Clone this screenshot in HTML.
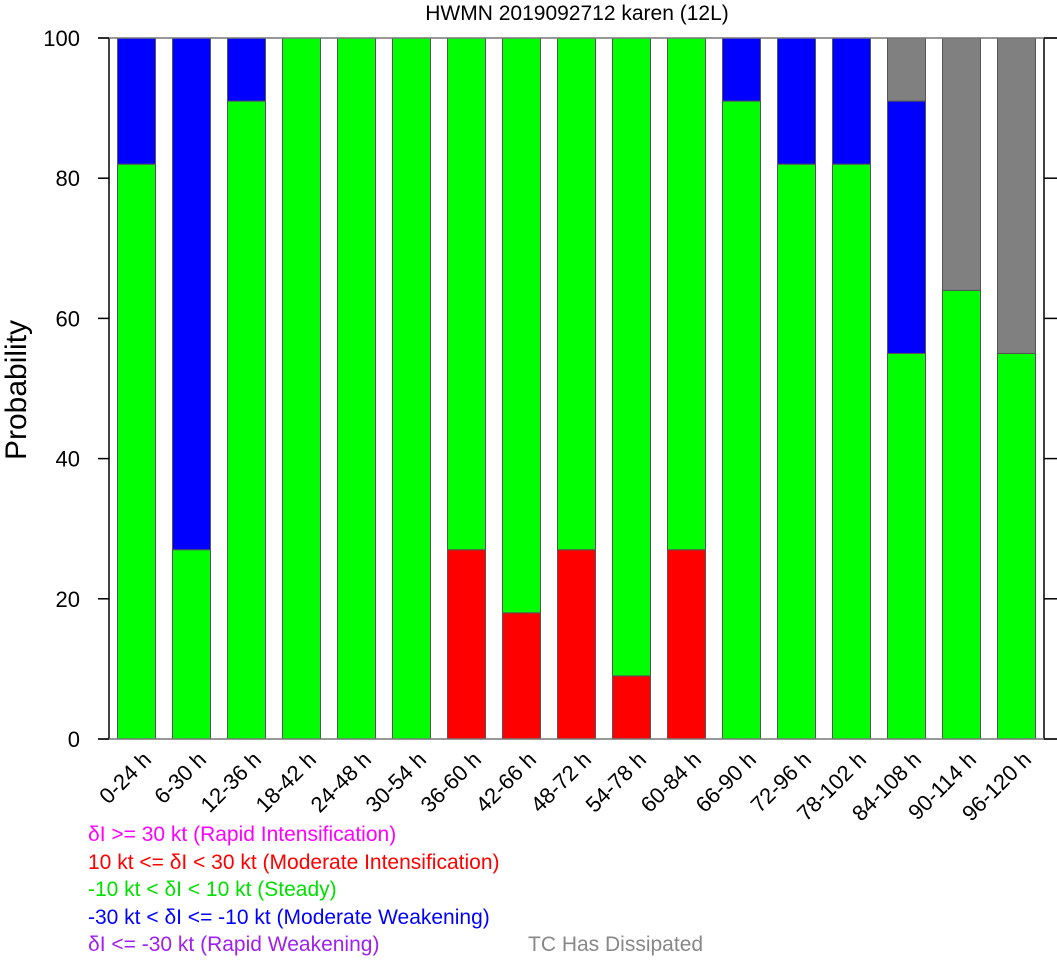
<!DOCTYPE html>
<html><head><meta charset="utf-8"><style>
body{margin:0;background:#fff;}
svg{display:block;font-family:"Liberation Sans",sans-serif;}
</style></head><body>
<svg id="chart" width="1057" height="960">
<text x="577" y="20" font-size="21" text-anchor="middle">HWMN 2019092712 karen (12L)</text>
<text transform="translate(26,390) rotate(-90)" font-size="30" text-anchor="middle">Probability</text>
<g id="bars"></g>
<g id="axes"></g>
<g font-size="21">
<text x="88" y="841" fill="#ff00ff">δI &gt;= 30 kt (Rapid Intensification)</text>
<text x="88" y="869" fill="#ff0000">10 kt &lt;= δI &lt; 30 kt (Moderate Intensification)</text>
<text x="88" y="896" fill="#00e000">-10 kt &lt; δI &lt; 10 kt (Steady)</text>
<text x="88" y="924" fill="#0000ff">-30 kt &lt; δI &lt;= -10 kt (Moderate Weakening)</text>
<text x="88" y="951" fill="#a020f0">δI &lt;= -30 kt (Rapid Weakening)</text>
<text x="528" y="951" fill="#888888">TC Has Dissipated</text>
</g>
</svg>
<script>
const categories=["0-24 h","6-30 h","12-36 h","18-42 h","24-48 h","30-54 h","36-60 h","42-66 h","48-72 h","54-78 h","60-84 h","66-90 h","72-96 h","78-102 h","84-108 h","90-114 h","96-120 h"];
const rapidInt=[0,0,0,0,0,0,0,0,0,0,0,0,0,0,0,0,0];
const modInt=[0,0,0,0,0,0,27,18,27,9,27,0,0,0,0,0,0];
const steady=[82,27,91,100,100,100,73,82,73,91,73,91,82,82,55,64,55];
const modWeak=[18,73,9,0,0,0,0,0,0,0,0,9,18,18,36,0,0];
const rapidWeak=[0,0,0,0,0,0,0,0,0,0,0,0,0,0,0,0,0];
const dissipated=[0,0,0,0,0,0,0,0,0,0,0,0,0,0,0,9,36,45].slice(1);
const yTicks=[0,20,40,60,80,100];
const NS="http://www.w3.org/2000/svg";
const X0=109,X1=1044,Y0=739,Y1=38;
const slot=(X1-X0)/categories.length;
const xC=i=>X0+slot*(i+0.5);
const y=v=>Y0-(v/100)*(Y0-Y1);
const bars=document.getElementById('bars');
const series=[[rapidInt,'#ff00ff','rapid-int'],[modInt,'#ff0000','mod-int'],[steady,'#00ff00','steady'],[modWeak,'#0000ff','mod-weak'],[rapidWeak,'#a020f0','rapid-weak'],[dissipated,'#808080','dissipated']];
categories.forEach((c,i)=>{
 let base=0;
 series.forEach(s=>{
  const v=s[0][i];
  if(v>0){
   const r=document.createElementNS(NS,'rect');
   r.setAttribute('x',xC(i)-19);r.setAttribute('width',38);
   r.setAttribute('y',y(base+v));r.setAttribute('height',y(base)-y(base+v));
   r.setAttribute('fill',s[1]);r.setAttribute('stroke','#555');r.setAttribute('stroke-width','1');
   
   
   bars.appendChild(r);
  }
  base+=v;
 });
 const t=document.createElementNS(NS,'text');
 t.setAttribute('transform',`translate(${xC(i)+16},${Y0+22}) rotate(-45)`);
 t.setAttribute('text-anchor','end');t.setAttribute('font-size','22');
 t.textContent=c;
 
 
 bars.appendChild(t);
});
const ax=document.getElementById('axes');
function line(x1,y1,x2,y2,col,name){const l=document.createElementNS(NS,'line');l.setAttribute('x1',x1);l.setAttribute('y1',y1);l.setAttribute('x2',x2);l.setAttribute('y2',y2);l.setAttribute('stroke',col);l.setAttribute('stroke-width','1.5');
 
 
 ax.appendChild(l);}
line(X0,Y1,X0,Y0,'#000','y-axis-left');
line(X1,Y1,X1,Y0,'#000','y-axis-right');
line(98,Y0,1057,Y0,'#777','x-axis');
line(98,Y1,1057,Y1,'#777','top-border');
yTicks.forEach(v=>{
 line(98,y(v),X0,y(v),'#000','y-tick-left');
 line(X1,y(v),1057,y(v),'#000','y-tick-right');
 const t=document.createElementNS(NS,'text');
 t.setAttribute('x',80);t.setAttribute('y',y(v)+8);t.setAttribute('text-anchor','end');t.setAttribute('font-size','22');
 t.textContent=v;
 
 
 ax.appendChild(t);
});
</script>
</body></html>
